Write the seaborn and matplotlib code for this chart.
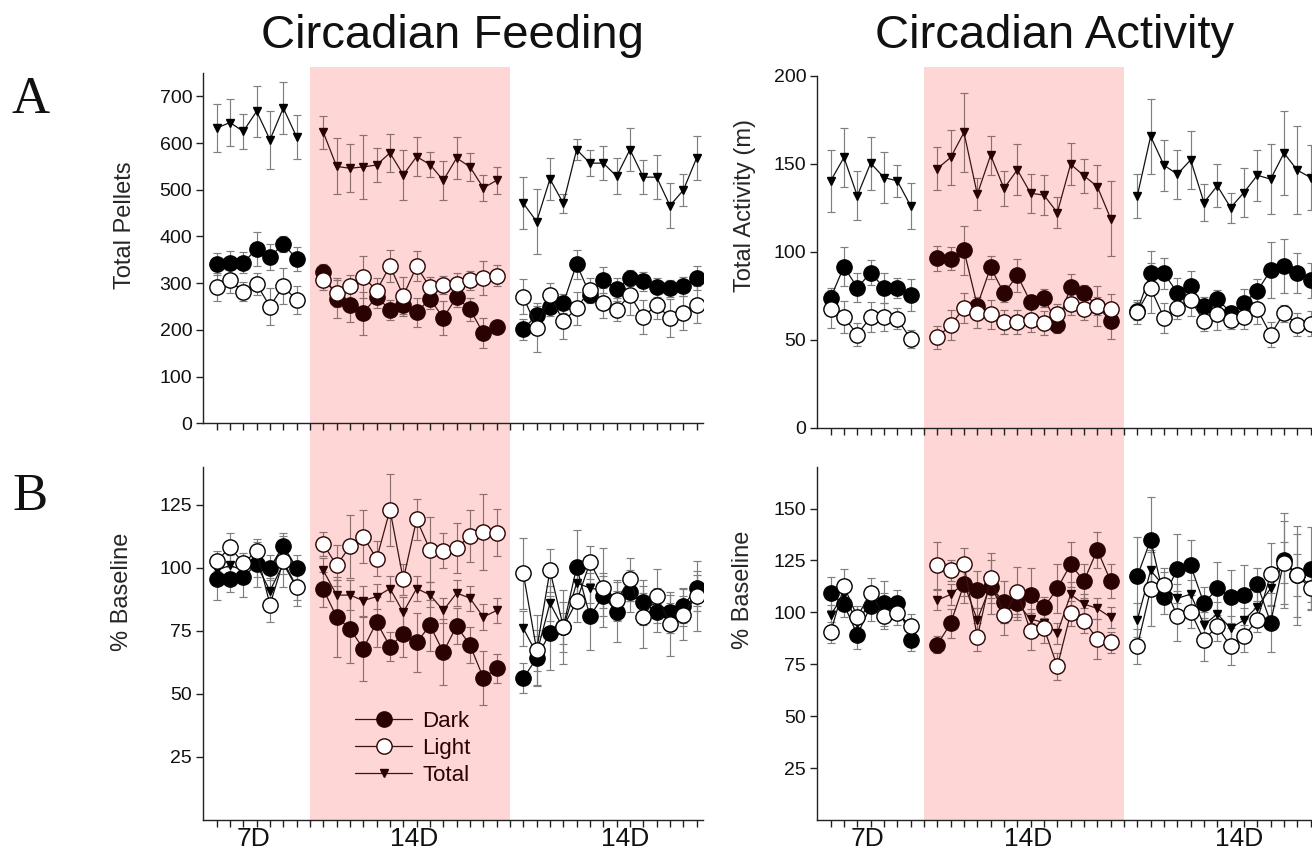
import numpy as np
import pandas as pd
import matplotlib
matplotlib.use('Agg')
import matplotlib.pyplot as plt
import seaborn as sns
from matplotlib.lines import Line2D
from matplotlib.patches import Rectangle
from matplotlib import transforms

# ---------------- data ----------------
period_labels = ['7D', '14D', '14D']
period_sizes = [7, 14, 14]
series_names = ['Dark', 'Light', 'Total']

feed_total = [632, 644, 625, 668, 607, 675, 613,
              623, 550, 546, 549, 553, 579, 532, 571, 554, 520, 568, 549, 504, 520,
              471, 432, 523, 471, 586, 557, 557, 529, 586, 527, 527, 466, 499, 568]
feed_total_err = [52, 50, 37, 55, 62, 55, 48,
                  35, 60, 51, 68, 37, 41, 53, 42, 27, 42, 44, 30, 27, 28,
                  56, 70, 45, 20, 22, 28, 37, 38, 46, 37, 47, 48, 34, 48]
feed_dark = [341, 343, 344, 373, 356, 384, 352,
             325, 266, 254, 236, 271, 243, 254, 238, 266, 226, 270, 244, 193, 207,
             201, 232, 249, 257, 341, 275, 307, 287, 311, 304, 291, 289, 293, 311]
feed_dark_err = [24, 25, 22, 36, 28, 18, 25,
                 15, 40, 37, 46, 25, 21, 25, 31, 22, 36, 22, 25, 32, 15,
                 22, 20, 20, 20, 31, 18, 27, 25, 18, 20, 20, 18, 20, 25]
feed_light = [291, 306, 282, 298, 250, 294, 263,
              306, 280, 293, 314, 284, 337, 273, 336, 291, 296, 299, 306, 311, 316,
              271, 205, 275, 218, 246, 286, 257, 243, 275, 227, 254, 225, 236, 254]
feed_light_err = [30, 28, 20, 24, 39, 38, 30,
                  20, 32, 25, 45, 28, 35, 40, 32, 22, 20, 22, 20, 36, 22,
                  38, 53, 26, 38, 35, 25, 32, 25, 43, 36, 30, 41, 37, 39]

act_total = [140.4, 153.7, 131.9, 150.5, 142.3, 140.4, 126.2,
             147.4, 153.7, 167.9, 132.8, 155.0, 136.1, 146.7, 133.4, 132.3, 122.4, 149.9, 143.3, 137.2, 119.0,
             131.9, 165.7, 149.3, 144.2, 152.3, 128.1, 137.6, 125.2, 133.8, 143.6, 141.4, 156.2, 146.5, 142.3]
act_total_err = [17.5, 17, 14, 15, 14.5, 9, 13,
                 12.3, 15.4, 22.5, 9, 11, 10.2, 14.4, 11, 11.5, 8.8, 12, 9.5, 12, 21.3,
                 12.6, 21.5, 14.5, 13.9, 16.7, 10.3, 12.2, 8.5, 14, 14.4, 19.9, 24, 25, 18.5]
act_dark = [74.0, 91.7, 79.7, 88.2, 79.7, 79.7, 75.5,
            96.4, 96.2, 100.9, 69.6, 91.3, 76.5, 86.7, 71.5, 74.0, 58.8, 80.1, 76.5, 69.3, 60.7,
            66.4, 88.2, 87.9, 76.9, 80.6, 69.2, 73.4, 65.5, 71.2, 77.8, 89.6, 92.0, 88.2, 83.9]
act_dark_err = [5.7, 11.2, 8.2, 7, 8.5, 5.7, 9,
                7, 6.6, 13.7, 5, 6.5, 5, 9.5, 4, 5, 5, 7.2, 5, 5, 10.4,
                5, 12.3, 8.9, 8.5, 8.5, 5, 5, 4, 8, 6.6, 16, 15.2, 11.4, 10]
act_light = [67.7, 63.0, 53.1, 63.0, 63.0, 62.0, 50.7,
             51.6, 58.3, 68.3, 65.1, 64.5, 60.2, 60.2, 61.3, 59.4, 64.5, 70.6, 67.4, 69.3, 67.7,
             66.0, 79.5, 62.6, 68.3, 72.7, 60.7, 64.5, 61.3, 63.0, 67.4, 53.1, 65.1, 58.8, 59.2]
act_light_err = [10.8, 9, 6.3, 8.7, 8, 6, 5,
                 6.6, 8.5, 8.5, 8.2, 8.3, 7, 6.7, 7, 6.8, 6, 6.3, 6.3, 11.4, 8.2,
                 6.8, 14, 8.5, 6.6, 9.1, 5.7, 9, 5, 7, 8.5, 7, 5, 6.3, 7]

feedpct_dark = [95.4, 95.4, 96.4, 101.4, 100.0, 108.8, 100.0,
                91.5, 80.5, 75.9, 67.9, 78.5, 68.8, 73.7, 70.4, 77.2, 66.6, 76.9, 69.4, 56.4, 60.1,
                56.2, 64.2, 74.2, 76.6, 100.3, 80.8, 88.9, 82.4, 90.4, 86.3, 82.4, 82.4, 85.0, 91.9]
feedpct_dark_err = [8, 5, 8, 9, 5, 5, 5,
                    7, 16, 13.6, 12.7, 10, 5.8, 9, 11.6, 10, 13.2, 7, 7, 10.8, 5.6,
                    6, 11, 14.6, 10, 14.7, 13.3, 8, 12, 8, 9, 8, 7, 7, 7]
feedpct_light = [102.6, 108.1, 102.0, 106.5, 85.4, 102.6, 92.5,
                 109.4, 101.0, 108.5, 112.4, 103.6, 123.0, 95.4, 119.2, 107.2, 106.8, 107.8, 112.7, 114.3, 114.0,
                 97.8, 67.5, 99.0, 76.6, 86.7, 102.2, 92.2, 87.3, 95.4, 80.5, 88.9, 77.9, 81.5, 88.9]
feedpct_light_err = [4, 5.6, 4, 5, 7, 10, 7.7,
                     4.7, 8, 12.4, 10.4, 7, 14.4, 6, 8, 13, 7, 9.8, 10.4, 15, 9.4,
                     14.2, 14, 8.6, 14.6, 8, 6.5, 15.6, 8, 8.7, 12.4, 10.7, 12.7, 10, 14]
feedpct_total = [99, 101, 99, 101.3, 90.9, 101.6, 92.2,
                 99.0, 89.2, 89.2, 87.0, 88.6, 91.8, 82.4, 91.8, 89.3, 83.1, 90.0, 88.0, 80.5, 83.1,
                 76, 66, 86, 76, 94, 92, 91, 85, 93, 84, 86, 80, 83, 90]
feedpct_total_err = [4, 4, 4, 5, 5, 4, 5,
                     5, 6, 6, 6, 5, 5, 6, 5, 5, 5, 5, 5, 5, 5,
                     7, 7, 7, 6, 7, 6, 7, 6, 6, 6, 6, 6, 6, 7]

actpct_dark = [109.1, 103.8, 89.2, 103.0, 104.3, 104.6, 86.8,
               84.4, 94.7, 113.5, 111.0, 112.3, 105.1, 104.3, 108.3, 102.4, 111.5, 123.1, 115.1, 130.1, 115.1,
               117.4, 134.9, 107.2, 121.0, 122.6, 104.3, 111.5, 107.5, 108.3, 113.5, 95.1, 125.0, 117.8, 121.0]
actpct_dark_err = [8, 6, 6.8, 7, 11, 6.4, 5.6,
                   4, 7, 9, 9, 13, 10, 8, 13.3, 5, 12, 11, 8.3, 8.8, 8.3,
                   19, 20.7, 8, 16.6, 12.3, 8, 12.7, 12.7, 14.3, 8, 14, 23, 24, 20]
actpct_light = [90.3, 112.6, 97.9, 109.4, 98.2, 99.8, 93.2,
                122.6, 120.2, 123.1, 88.1, 116.7, 98.7, 109.9, 90.8, 92.4, 74.0, 99.5, 96.0, 87.1, 85.5,
                83.6, 111.1, 113.2, 98.2, 100.3, 86.8, 93.2, 83.6, 88.7, 96.3, 118.3, 124.0, 117.8, 111.5]
actpct_light_err = [5, 8.4, 5, 7.3, 6, 6, 6,
                    11.3, 5, 8, 6.8, 12, 9.5, 12, 9, 7, 6.4, 6, 6, 9.5, 5,
                    8.4, 17.8, 8, 12, 8, 10.3, 7, 8.8, 8, 6, 15, 20, 20, 10]
actpct_total = [98.7, 108.8, 94.7, 105.6, 104.3, 102.7, 90.0,
                105.9, 108.6, 114.0, 96.3, 113.0, 99.8, 104.3, 96.7, 95.1, 90.0, 108.6, 104.0, 101.9, 97.6,
                96.3, 120.2, 112.6, 106.7, 108.8, 94.0, 99.2, 92.4, 96.3, 102.7, 111.5, 124.0, 118.0, 113.0]
actpct_total_err = [5, 5, 5, 5, 5, 5, 5,
                    5, 5, 6, 6, 6, 5, 5, 5, 5, 5, 6, 5, 5, 5,
                    8, 10, 7, 7, 7, 6, 6, 6, 6, 7, 8, 10, 10, 8]

# ---------------- style ----------------
sns.set_theme(style='ticks')
plt.rcParams['font.family'] = ['Liberation Sans', 'DejaVu Sans']
plt.rcParams['axes.edgecolor'] = '#222222'
plt.rcParams['text.color'] = '#111111'

W, H = 1312, 849
fig = plt.figure(figsize=(W / 100, H / 100), dpi=100)

def fx(px):
    return px / W

def fy(py):
    return 1 - py / H

# day slots: periods separated by one empty slot
starts = []
s = 1
for n in period_sizes:
    starts.append(s)
    s += n + 1
positions = np.concatenate([np.arange(st, st + n) for st, n in zip(starts, period_sizes)])
label_pos = [3.8, 15.8, 31.6]
shade_lo, shade_hi = starts[1] - 1, starts[1] + period_sizes[1]

def add_axes(x0, y0, x1, y1):
    ax = fig.add_axes([fx(x0), fy(y1), fx(x1 - x0), (y1 - y0) / H])
    ax.set_facecolor('none')
    return ax

ax_ft = add_axes(203.3, 73, 703.3, 423.3)
ax_at = add_axes(817.3, 76, 1317.3, 428)
ax_fb = add_axes(203.3, 467, 703.3, 820)
ax_ab = add_axes(817.3, 467, 1317.3, 820)

MAROON = '#2a0202'

def draw(ax, dark, dark_e, light, light_e, total, total_e):
    dark, dark_e = np.asarray(dark, float), np.asarray(dark_e, float)
    light, light_e = np.asarray(light, float), np.asarray(light_e, float)
    total, total_e = np.asarray(total, float), np.asarray(total_e, float)
    idx0 = 0
    for seg, n in enumerate(period_sizes):
        sl = slice(idx0, idx0 + n)
        idx0 += n
        x = positions[sl]
        shaded = seg == 1
        lc = '#3a1414' if shaded else '#111111'
        mc = MAROON if shaded else '#000000'
        ec = '#8c7070' if shaded else '#7f7f7f'
        specs = [
            (total, total_e, 'v', 6.2, mc, mc, 3),
            (dark, dark_e, 'o', 11, mc, mc, 4),
            (light, light_e, 'o', 11, 'white', mc, 5),
        ]
        for vals, errs, mk, ms, mfc, mec, z in specs:
            ax.errorbar(x, vals[sl], yerr=errs[sl], fmt='none', ecolor=ec,
                        elinewidth=0.85, capsize=2.6, capthick=0.85, zorder=2)
            df = pd.DataFrame({'day': x, 'value': vals[sl]})
            sns.lineplot(data=df, x='day', y='value', ax=ax, color=lc, lw=0.9,
                         marker=mk, markersize=ms, markerfacecolor=mfc,
                         markeredgecolor=mec, markeredgewidth=1.0, zorder=z)

draw(ax_ft, feed_dark, feed_dark_err, feed_light, feed_light_err, feed_total, feed_total_err)
draw(ax_at, act_dark, act_dark_err, act_light, act_light_err, act_total, act_total_err)
draw(ax_fb, feedpct_dark, feedpct_dark_err, feedpct_light, feedpct_light_err, feedpct_total, feedpct_total_err)
draw(ax_ab, actpct_dark, actpct_dark_err, actpct_light, actpct_light_err, actpct_total, actpct_total_err)

def style(ax, ylim, yticks, ylabel, lab_xy, show_xlabels):
    sns.despine(ax=ax)
    ax.set_xlim(0, 37.5)
    ax.set_ylim(*ylim)
    ax.set_yticks(yticks)
    ax.set_yticklabels([f'{t:g}' for t in yticks])
    ax.set_xticks(np.arange(1, 38), minor=True)
    if show_xlabels:
        ax.set_xticks(label_pos)
        ax.set_xticklabels(period_labels)
    else:
        ax.set_xticks([])
    ax.tick_params(axis='x', which='minor', length=5, width=1, direction='out', color='#222222')
    ax.tick_params(axis='x', which='major', length=0, pad=5, labelsize=19, labelcolor='#111111')
    ax.tick_params(axis='y', length=5, width=1, direction='out', labelsize=14,
                   color='#222222', labelcolor='#111111', pad=3)
    for sp in ['left', 'bottom']:
        ax.spines[sp].set_linewidth(1.0)
    ax.set_xlabel('')
    ax.set_ylabel(ylabel, fontsize=17, va='center', ha='center')
    ax.yaxis.set_label_coords(*lab_xy)

style(ax_ft, (0, 750), [0, 100, 200, 300, 400, 500, 600, 700], 'Total Pellets', (-0.157, 0.566), False)
style(ax_at, (0, 200), [0, 50, 100, 150, 200], 'Total Activity (m)', (-0.145, 0.631), False)
style(ax_fb, (0, 140), [25, 50, 75, 100, 125], '% Baseline', (-0.163, 0.646), True)
style(ax_ab, (0, 170), [25, 50, 75, 100, 125, 150], '% Baseline', (-0.148, 0.652), True)

# shaded treatment period spanning both rows
for ax in (ax_ft, ax_at):
    tr = transforms.blended_transform_factory(ax.transData, fig.transFigure)
    rect = Rectangle((shade_lo, fy(820)), shade_hi - shade_lo, fy(67) - fy(820),
                     transform=tr, facecolor='#ffd6d6', edgecolor='none', zorder=-1)
    fig.add_artist(rect)

# legend
handles = [
    Line2D([], [], color='#3a1414', lw=0.9, marker='o', markersize=11,
           markerfacecolor=MAROON, markeredgecolor=MAROON),
    Line2D([], [], color='#3a1414', lw=0.9, marker='o', markersize=11,
           markerfacecolor='white', markeredgecolor=MAROON),
    Line2D([], [], color='#3a1414', lw=0.9, marker='v', markersize=6.2,
           markerfacecolor=MAROON, markeredgecolor=MAROON),
]
leg = ax_fb.legend(handles, series_names, loc='upper left', bbox_to_anchor=(0.285, 0.335),
                   frameon=False, fontsize=16, handlelength=2.6, labelspacing=0.28,
                   handletextpad=0.45, borderaxespad=0)
for t in leg.get_texts():
    t.set_color(MAROON)

# titles and panel letters
fig.text(fx(452), fy(36), 'Circadian Feeding', ha='center', va='center', fontsize=34)
fig.text(fx(1055), fy(36), 'Circadian Activity', ha='center', va='center', fontsize=34)
fig.text(fx(12), fy(100), 'A', ha='left', va='center', fontsize=38, family='Liberation Serif')
fig.text(fx(12), fy(497), 'B', ha='left', va='center', fontsize=38, family='Liberation Serif')

fig.savefig('out.png', dpi=100)
